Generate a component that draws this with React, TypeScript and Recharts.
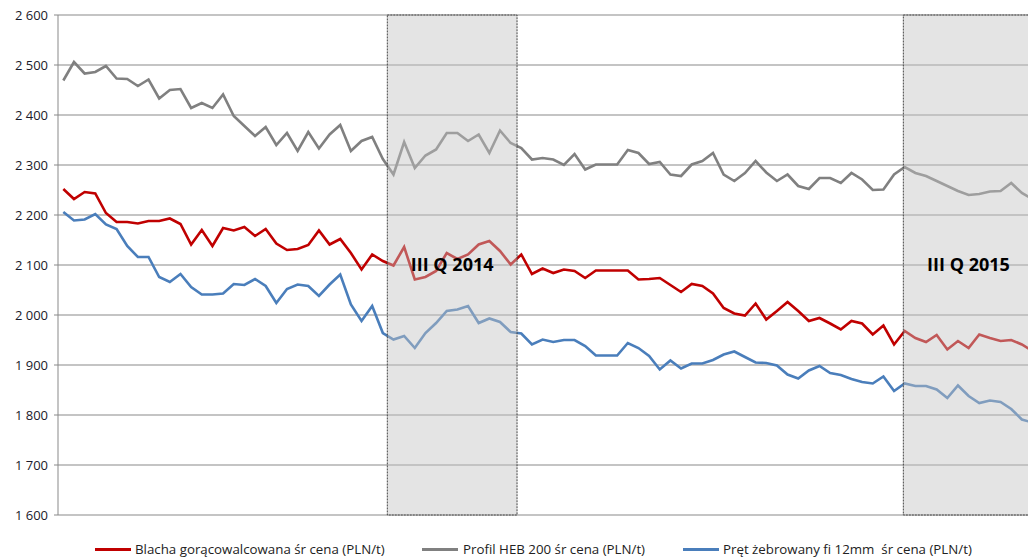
import { LineChart, Line, XAxis, YAxis, CartesianGrid, ReferenceArea, Legend } from 'recharts'

const blacha = [
  2252, 2232, 2246, 2243, 2204, 2186, 2186, 2183, 2188, 2188,
  2193, 2182, 2141, 2170, 2138, 2174, 2169, 2176, 2158, 2172,
  2143, 2130, 2132, 2140, 2169, 2141, 2152, 2124, 2091, 2121,
  2108, 2099, 2136, 2071, 2076, 2088, 2124, 2112, 2121, 2141,
  2148, 2128, 2101, 2121, 2082, 2093, 2084, 2091, 2088, 2074,
  2089, 2089, 2089, 2089, 2071, 2072, 2074, 2060, 2046, 2062,
  2058, 2043, 2014, 2003, 1999, 2023, 1991, 2008, 2026, 2008,
  1988, 1994, 1983, 1971, 1988, 1983, 1961, 1979, 1941, 1968,
  1954, 1946, 1960, 1931, 1948, 1934, 1961, 1954, 1948, 1950,
  1941, 1928,
]

const profil = [
  2469, 2506, 2483, 2486, 2498, 2473, 2472, 2458, 2471, 2433,
  2450, 2452, 2414, 2424, 2414, 2441, 2398, 2378, 2358, 2376,
  2340, 2364, 2328, 2366, 2333, 2361, 2380, 2328, 2348, 2356,
  2312, 2281, 2346, 2294, 2319, 2331, 2364, 2364, 2348, 2361,
  2324, 2369, 2344, 2334, 2311, 2314, 2311, 2300, 2322, 2291,
  2301, 2301, 2301, 2330, 2324, 2302, 2306, 2281, 2278, 2301,
  2308, 2324, 2281, 2268, 2284, 2308, 2285, 2268, 2281, 2258,
  2252, 2274, 2274, 2264, 2284, 2271, 2250, 2251, 2281, 2296,
  2284, 2278, 2268, 2258, 2248, 2240, 2242, 2247, 2248, 2264,
  2244, 2232,
]

const pret = [
  2206, 2189, 2191, 2202, 2181, 2172, 2138, 2116, 2116, 2076,
  2066, 2082, 2056, 2041, 2041, 2043, 2062, 2060, 2072, 2058,
  2024, 2052, 2061, 2058, 2038, 2061, 2081, 2021, 1988, 2018,
  1964, 1951, 1958, 1934, 1964, 1984, 2008, 2011, 2018, 1984,
  1993, 1986, 1966, 1963, 1941, 1951, 1946, 1950, 1950, 1938,
  1919, 1919, 1919, 1944, 1934, 1918, 1891, 1909, 1893, 1903,
  1903, 1910, 1921, 1927, 1916, 1905, 1904, 1899, 1881, 1873,
  1889, 1898, 1884, 1880, 1872, 1866, 1863, 1877, 1848, 1863,
  1858, 1858, 1851, 1834, 1859, 1838, 1824, 1829, 1826, 1812,
  1791, 1785,
]

const yTicks = [1600, 1700, 1800, 1900, 2000, 2100, 2200, 2300, 2400, 2500, 2600]

// quarters marked on the chart, in week index units
const quarters = [
  { label: 'III Q 2014', from: 30.42, to: 42.6 },
  { label: 'III Q 2015', from: 78.87, to: 91.1 },
]

const series = [
  { key: 'blacha', name: 'Blacha gorącowalcowana śr cena (PLN/t)', color: '#c00000', lineX: 87, textX: 127 },
  { key: 'profil', name: 'Profil HEB 200 śr cena (PLN/t)', color: '#808080', lineX: 414, textX: 455 },
  { key: 'pret', name: 'Pręt żebrowany fi 12mm  śr cena (PLN/t)', color: '#4a7ebb', lineX: 675, textX: 715 },
]

const data = blacha.map((v, i) => ({ x: i, blacha: v, profil: profil[i], pret: pret[i] }))

const FONT = '"Open Sans", "Liberation Sans", sans-serif'

const fmt = (v: number) => `${Math.floor(v / 1000)} ${String(v % 1000).padStart(3, '0')}`

function LegendRow() {
  return (
    <div style={{ position: 'relative', height: 44, fontFamily: FONT, fontSize: 13.3, color: '#222' }}>
      {series.map((s) => (
        <div key={s.key}>
          <div style={{ position: 'absolute', left: s.lineX, top: 33, width: 36, height: 3, background: s.color }} />
          <div style={{ position: 'absolute', left: s.textX, top: 25, whiteSpace: 'pre', lineHeight: '18px' }}>{s.name}</div>
        </div>
      ))}
    </div>
  )
}

export default function App() {
  return (
    <div style={{ position: 'absolute', left: 0, top: 0, width: 1028, height: 559, overflow: 'hidden', background: '#fff' }}>
      <LineChart width={1060} height={559} data={data} margin={{ top: 15, right: 0, left: 8, bottom: 0 }}>
        <CartesianGrid vertical={false} stroke="#898989" strokeWidth={1} />
        <XAxis dataKey="x" type="number" domain={[-0.5, 93.58]} hide allowDataOverflow />
        <YAxis
          domain={[1600, 2600]}
          ticks={yTicks}
          width={50}
          stroke="#898989"
          tickSize={4}
          tickMargin={6}
          tickFormatter={fmt}
          tick={{ fill: '#1a1a2a', fontSize: 13, fontFamily: FONT }}
          allowDataOverflow
        />
        {series.map((s) => (
          <Line
            key={s.key}
            type="linear"
            dataKey={s.key}
            name={s.name}
            stroke={s.color}
            strokeWidth={2.6}
            dot={false}
            isAnimationActive={false}
          />
        ))}
        {quarters.map((q) => (
          <ReferenceArea
            key={q.label}
            x1={q.from}
            x2={q.to}
            y1={1600}
            y2={2600}
            fill="#c4c4c4"
            fillOpacity={0.45}
            stroke="#444"
            strokeDasharray="2 1"
            strokeWidth={1}
            zIndex={450}
            ifOverflow="visible"
            label={{ value: q.label, position: 'center', fill: '#000', fontSize: 18, fontWeight: 'bold', fontFamily: FONT }}
          />
        ))}
        <Legend verticalAlign="bottom" content={() => <LegendRow />} />
      </LineChart>
    </div>
  )
}
